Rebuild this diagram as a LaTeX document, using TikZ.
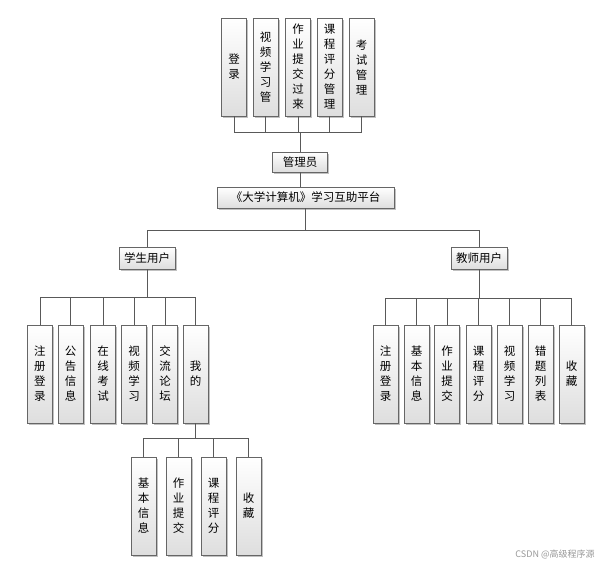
\documentclass[tikz,border=0pt]{standalone}
\usepackage{fontspec}
\setmainfont{Noto Sans CJK SC}
\usetikzlibrary{shadows}
\tikzset{
 box/.style={draw=black!60, line width=0.8pt, top color=white, bottom color=black!13,
   drop shadow={shadow xshift=1.6pt, shadow yshift=-1.6pt, fill=black!40, opacity=0.6},
   inner sep=0pt, font=\fontsize{11.5}{15}\selectfont, align=center},
 hbox/.style={box, minimum height=21pt},
 vbox/.style={box, minimum width=25pt, minimum height=98pt},
 link/.style={draw=black!65, line width=1pt},
}
\begin{document}
\begin{tikzpicture}[x=1pt,y=-1pt]
\fill[white] (0,0) rectangle (611,566);
\useasboundingbox (0,0) rectangle (611,566);
% top boxes
\node[vbox] (t1) at (234,67) {登\\录};
\node[vbox] (t2) at (265.5,67) {视\\频\\学\\习\\管};
\node[vbox] (t3) at (298,67) {作\\业\\提\\交\\过\\来};
\node[vbox] (t4) at (329.5,67) {课\\程\\评\\分\\管\\理};
\node[vbox] (t5) at (361.5,67) {考\\试\\管\\理};
\node[hbox, minimum width=55pt, minimum height=20pt] (admin) at (300,162) {管理员};
\node[hbox, minimum width=177pt] (plat) at (305.5,197.5) {《大学计算机》学习互助平台};
\node[hbox, minimum width=56pt, minimum height=22pt] (stu) at (147,258) {学生用户};
\node[hbox, minimum width=56pt, minimum height=22pt] (tea) at (479,258) {教师用户};
% student children
\node[vbox] (s1) at (40,374) {注\\册\\登\\录};
\node[vbox] (s2) at (70.5,374) {公\\告\\信\\息};
\node[vbox] (s3) at (103,374) {在\\线\\考\\试};
\node[vbox] (s4) at (134,374) {视\\频\\学\\习};
\node[vbox] (s5) at (165,374) {交\\流\\论\\坛};
\node[vbox] (s6) at (195.5,374) {我\\的};
% my children
\node[vbox] (m1) at (143.5,506) {基\\本\\信\\息};
\node[vbox] (m2) at (178.5,506) {作\\业\\提\\交};
\node[vbox] (m3) at (213.5,506) {课\\程\\评\\分};
\node[vbox] (m4) at (248.5,506) {收\\藏};
% teacher children
\node[vbox] (e1) at (385.5,374) {注\\册\\登\\录};
\node[vbox] (e2) at (416.5,374) {基\\本\\信\\息};
\node[vbox] (e3) at (447,374) {作\\业\\提\\交};
\node[vbox] (e4) at (478.5,374) {课\\程\\评\\分};
\node[vbox] (e5) at (509.5,374) {视\\频\\学\\习};
\node[vbox] (e6) at (540.5,374) {错\\题\\列\\表};
\node[vbox] (e7) at (571.5,374) {收\\藏};
\node[text=black!40, font=\fontsize{9}{10}\selectfont] (wm) at (555,554) {CSDN @高级程序源};
% bus coordinates
\coordinate (tbus) at (0,132);
\coordinate (mbus) at (0,230);
\coordinate (sbus) at (0,297);
\coordinate (ebus) at (0,298);
\coordinate (mybus) at (0,438);
% top connectors
\draw[link] (t1.south) -- (t1.south |- tbus) -- (t5.south |- tbus) -- (t5.south);
\foreach \n in {t2,t3,t4} \draw[link] (\n.south) -- (\n.south |- tbus);
\draw[link] (admin.north) -- (admin.north |- tbus);
\draw[link] (admin.south) -- (admin.south |- plat.north);
% platform to users
\draw[link] (plat.south) -- (plat.south |- mbus);
\draw[link] (stu.north) -- (stu.north |- mbus) -- (tea.north |- mbus) -- (tea.north);
% student
\draw[link] (stu.south) -- (stu.south |- sbus);
\draw[link] (s1.north) -- (s1.north |- sbus) -- (s6.north |- sbus) -- (s6.north);
\foreach \n in {s2,s3,s4,s5} \draw[link] (\n.north) -- (\n.north |- sbus);
% my
\draw[link] (s6.south) -- (s6.south |- mybus);
\draw[link] (m1.north) -- (m1.north |- mybus) -- (m4.north |- mybus) -- (m4.north);
\foreach \n in {m2,m3} \draw[link] (\n.north) -- (\n.north |- mybus);
% teacher
\draw[link] (tea.south) -- (tea.south |- ebus);
\draw[link] (e1.north) -- (e1.north |- ebus) -- (e7.north |- ebus) -- (e7.north);
\foreach \n in {e2,e3,e4,e5,e6} \draw[link] (\n.north) -- (\n.north |- ebus);
\end{tikzpicture}
\end{document}
